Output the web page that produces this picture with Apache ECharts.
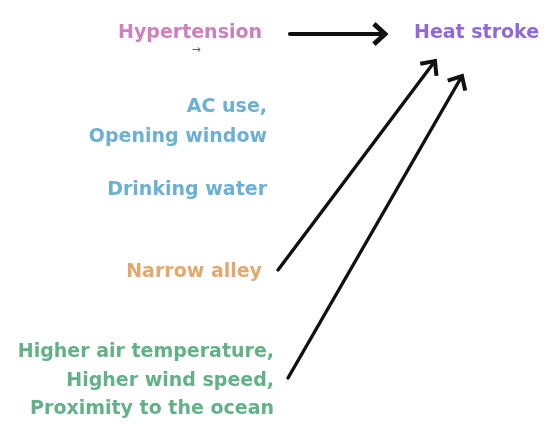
<!DOCTYPE html>
<html>
<head>
    <meta charset="UTF-8">
    <title>Heat stroke factors</title>
    <script src="https://cdn.jsdelivr.net/npm/echarts@6/dist/echarts.min.js" type="text/javascript"></script>
</head>
<body style="margin:0;background:#fff">
<div id="main" style="width:547px;height:425px"></div>
<script type="text/javascript">
    // text labels of the diagram (positions in pixel-like axis units)
    var labels = ['Hypertension', 'Heat stroke', 'AC use,', 'Opening window', 'Drinking water',
                  'Narrow alley', 'Higher air temperature,', 'Higher wind speed,', 'Proximity to the ocean', '→'];
    var labelX = [118, 414, 267, 267, 267, 262, 274, 274, 274, 196];
    var labelY = [33, 33, 107, 137, 190, 272, 352, 381, 409, 50];
    var labelGroup = ['pink', 'purple', 'blue', 'blue', 'blue', 'orange', 'green', 'green', 'green', 'tiny'];

    // arrows: start x, start y, end x, end y
    var arrowFrom = [[290, 34], [278, 270], [288, 378]];
    var arrowTo = [[385, 34], [435, 61], [462, 76]];

    var colors = {
        pink: '#cc80bf',
        purple: '#9168d8',
        blue: '#6cb0d4',
        orange: '#e2a86e',
        green: '#62b187',
        tiny: '#666666'
    };

    var textData = [];
    for (var i = 0; i < labels.length; i++) {
        textData.push([labelX[i], labelY[i], labels[i], labelGroup[i]]);
    }
    var arrowData = [];
    for (var j = 0; j < arrowFrom.length; j++) {
        arrowData.push([arrowFrom[j][0], arrowFrom[j][1], arrowTo[j][0], arrowTo[j][1]]);
    }

    var myChart = echarts.init(document.getElementById('main'));
    var option = {
        animation: false,
        backgroundColor: '#ffffff',
        grid: {left: 0, right: 0, top: 0, bottom: 0},
        xAxis: {type: 'value', min: 0, max: 547, show: false},
        yAxis: {type: 'value', min: 0, max: 425, inverse: true, show: false},
        series: [{
            type: 'custom',
            data: arrowData,
            renderItem: function (params, api) {
                var p1 = api.coord([api.value(0), api.value(1)]);
                var p2 = api.coord([api.value(2), api.value(3)]);
                var ang = Math.atan2(p2[1] - p1[1], p2[0] - p1[0]);
                var len = 15, spread = 0.74;
                var a1 = [p2[0] - len * Math.cos(ang - spread), p2[1] - len * Math.sin(ang - spread)];
                var a2 = [p2[0] - len * Math.cos(ang + spread), p2[1] - len * Math.sin(ang + spread)];
                var w = params.dataIndex === 0 ? 4.2 : 3.4;
                return {
                    type: 'group',
                    children: [{
                        type: 'line',
                        shape: {x1: p1[0], y1: p1[1], x2: p2[0], y2: p2[1]},
                        style: {stroke: '#111', lineWidth: w, lineCap: 'round'}
                    }, {
                        type: 'polyline',
                        shape: {points: [a1, p2, a2]},
                        style: {stroke: '#111', lineWidth: w + 0.6, fill: null, lineJoin: 'miter', lineCap: 'butt'}
                    }]
                };
            }
        }, {
            type: 'custom',
            data: textData,
            renderItem: function (params, api) {
                var d = textData[params.dataIndex];
                var p = api.coord([d[0], d[1]]);
                var tiny = d[3] === 'tiny';
                var leftSide = d[3] === 'pink' || d[3] === 'purple' || tiny;
                return {
                    type: 'text',
                    x: p[0],
                    y: p[1],
                    style: {
                        text: d[2],
                        fill: colors[d[3]],
                        font: tiny ? '11px "DejaVu Sans"' : 'bold 19px "DejaVu Sans"',
                        align: tiny ? 'center' : (leftSide ? 'left' : 'right'),
                        verticalAlign: 'middle'
                    }
                };
            }
        }]
    };
    myChart.setOption(option);
</script>
</body>
</html>
